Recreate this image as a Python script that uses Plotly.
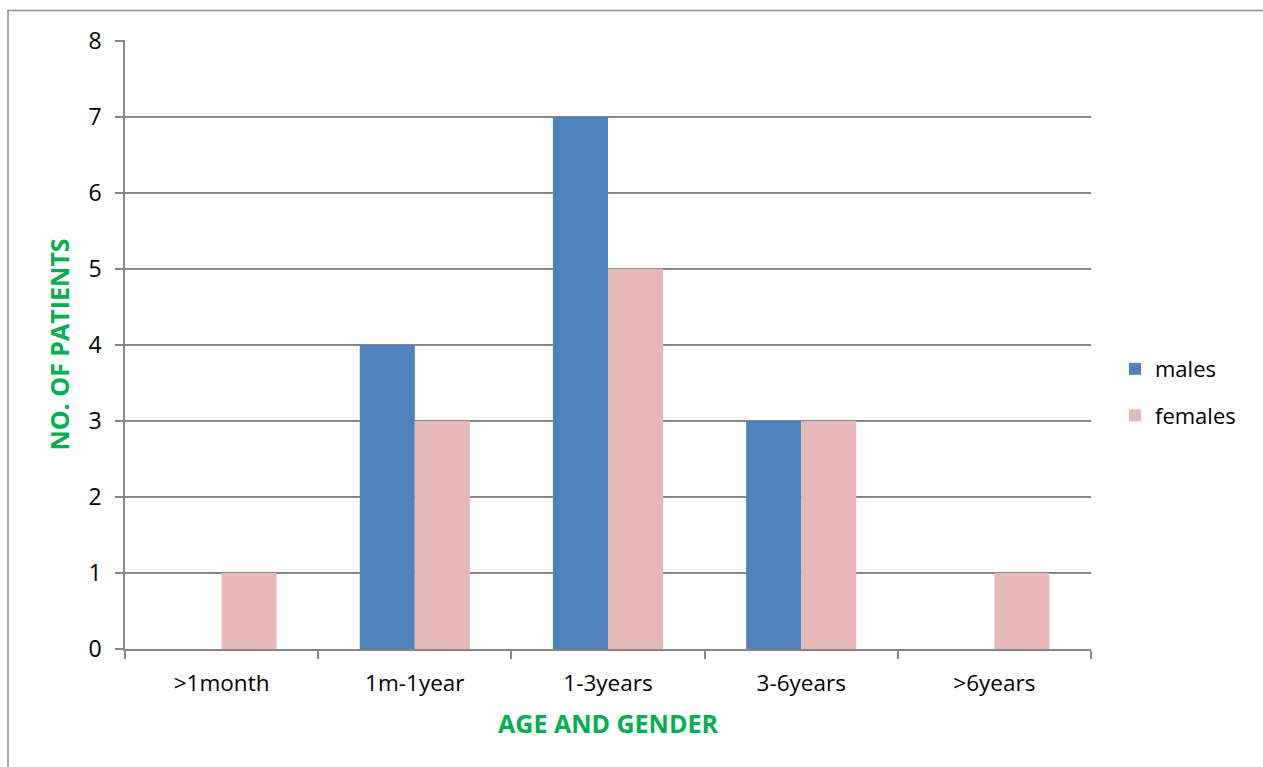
import plotly.graph_objects as go

categories = [">1month", "1m-1year", "1-3years", "3-6years", ">6years"]
males = [0, 4, 7, 3, 0]
females = [1, 3, 5, 3, 1]

W, H = 1263, 767
L, R, T, B = 125, 1091, 40, 649
pw, ph = R - L, B - T

def px2x(px):
    return (px - L) / pw

def py2y(py):
    return (B - py) / ph

font = "Open Sans, Noto Sans, sans-serif"

fig = go.Figure()
fig.add_trace(go.Bar(x=categories, y=males, name="males", legendgroup="m",
                     marker_color="#4F81BD", marker_line_width=0))
fig.add_trace(go.Bar(x=categories, y=females, name="females", legendgroup="f",
                     marker_color="#E6B9B8", marker_line_width=0))

fig.update_layout(
    width=W, height=H,
    margin=dict(l=L, r=W - R, t=T, b=H - B, pad=0),
    paper_bgcolor="white", plot_bgcolor="white",
    barmode="group", bargap=0.43, bargroupgap=0,
    font=dict(family=font, size=23, color="black"),
    legend=dict(x=px2x(1115), y=py2y(348), xanchor="left", yanchor="top",
                font=dict(size=22), itemsizing="constant", traceorder="grouped",
                tracegroupgap=15, bgcolor="rgba(0,0,0,0)"),
    xaxis=dict(
        type="category", tickson="boundaries", ticks="outside", ticklen=8,
        tickcolor="#868686", tickwidth=1.5, showline=True, linecolor="#868686", linewidth=1.5,
        showgrid=False, tickfont=dict(size=22.5), ticklabelstandoff=13,
        title=dict(text="<b>AGE AND GENDER</b>", font=dict(size=25, color="#00B050"), standoff=19),
    ),
    yaxis=dict(
        range=[0, 8.01], tickvals=[0, 1, 2, 3, 4, 5, 6, 7, 8], ticks="outside", ticklen=8,
        tickcolor="#868686", tickwidth=1.5,
        showline=True, linecolor="#868686", linewidth=1.5,
        showgrid=True, gridcolor="#868686", gridwidth=1.5, zeroline=False,
        tickfont=dict(size=23), ticklabelstandoff=9,
        title=dict(text="<b>NO. OF PATIENTS</b>", font=dict(size=25, color="#00B050"), standoff=12),
    ),
    shapes=[dict(type="rect", xref="paper", yref="paper",
                 x0=px2x(8), y0=py2y(780), x1=px2x(1280), y1=py2y(10.5),
                 line=dict(color="#8C8C8C", width=1.5), fillcolor="rgba(0,0,0,0)", layer="below")],
)

fig.write_html("out.html")
